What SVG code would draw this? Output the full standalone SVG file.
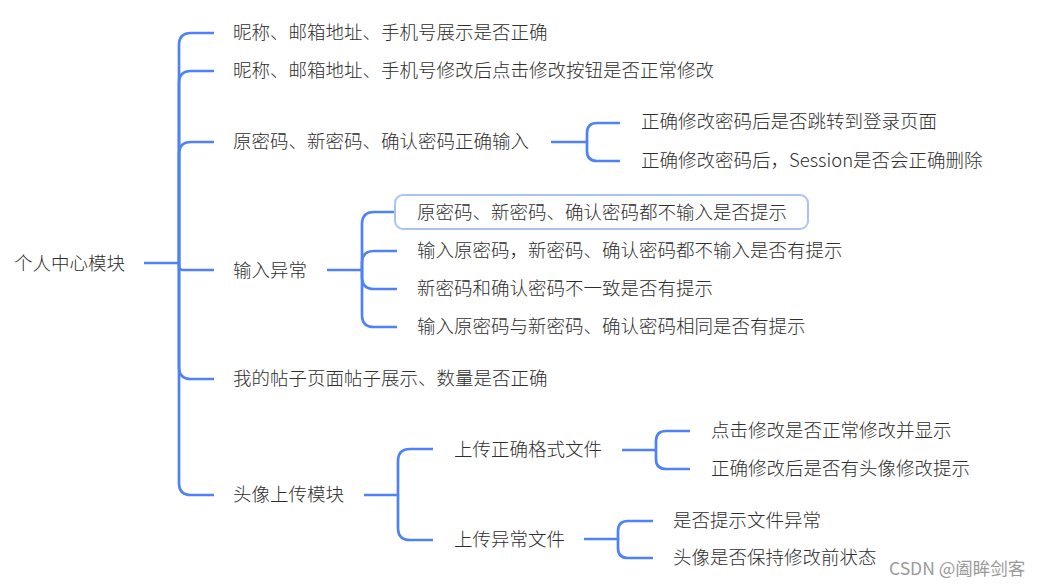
<svg xmlns="http://www.w3.org/2000/svg" width="1041" height="586" viewBox="0 0 1041 586">
<style>
.t{font-family:"Noto Sans CJK SC","Noto Sans",sans-serif;font-size:18.5px;font-weight:300;fill:#2e2e2e;dominant-baseline:central}
.c path{fill:none;stroke:#4F82F7;stroke-width:2.7;stroke-linecap:butt}
.wm{font-family:"Noto Sans CJK SC","Noto Sans",sans-serif;font-size:17.5px;fill:#9a9a9a;dominant-baseline:central}
</style>
<rect width="1041" height="586" fill="#ffffff"/>
<g class="c" id="connectors">
<path d="M144 263H179"/>
<path d="M179 263V45Q179 33 191 33H214"/>
<path d="M179 263V83Q179 71 191 71H214"/>
<path d="M179 263V154Q179 142 191 142H214"/>
<path d="M179 263V266Q179 270 183 270H214"/>
<path d="M179 263V367Q179 379 191 379H214"/>
<path d="M179 263V483Q179 495 191 495H214"/>
<path d="M551 142H587"/>
<path d="M587 142V133Q587 123 597 123H620"/>
<path d="M587 142V151Q587 161 597 161H620"/>
<path d="M327 270H362"/>
<path d="M362 270V224Q362 212 374 212H397"/>
<path d="M362 270V263Q362 251 374 251H397"/>
<path d="M362 270V277Q362 289 374 289H397"/>
<path d="M362 270V315Q362 327 374 327H397"/>
<path d="M364 495H398"/>
<path d="M398 495V461Q398 449 410 449H433"/>
<path d="M398 495V528Q398 540 410 540H433"/>
<path d="M622 450H656"/>
<path d="M656 450V441Q656 431 666 431H690"/>
<path d="M656 450V459Q656 469 666 469H690"/>
<path d="M584 539H618"/>
<path d="M618 539V531Q618 521 628 521H653"/>
<path d="M618 539V548Q618 558 628 558H653"/>
</g>
<g id="root"><text class="t" x="14" y="262">个人中心模块</text></g>
<g id="n1"><text class="t" x="233" y="31">昵称、邮箱地址、手机号展示是否正确</text></g>
<g id="n2"><text class="t" x="233" y="69">昵称、邮箱地址、手机号修改后点击修改按钮是否正常修改</text></g>
<g id="n3"><text class="t" x="233" y="140">原密码、新密码、确认密码正确输入</text></g>
<g id="n3a"><text class="t" x="641" y="120">正确修改密码后是否跳转到登录页面</text></g>
<g id="n3b"><text class="t" x="641" y="159">正确修改密码后，Session是否会正确删除</text></g>
<g id="n4"><text class="t" x="233" y="269">输入异常</text></g>
<g id="n4a"><rect x="395" y="195" width="413" height="34" rx="8" fill="#ffffff" stroke="#A9C3FA" stroke-width="2"/><text class="t" x="417" y="211">原密码、新密码、确认密码都不输入是否提示</text></g>
<g id="n4b"><text class="t" x="417" y="249">输入原密码，新密码、确认密码都不输入是否有提示</text></g>
<g id="n4c"><text class="t" x="417" y="287">新密码和确认密码不一致是否有提示</text></g>
<g id="n4d"><text class="t" x="417" y="325">输入原密码与新密码、确认密码相同是否有提示</text></g>
<g id="n5"><text class="t" x="233" y="377">我的帖子页面帖子展示、数量是否正确</text></g>
<g id="n6"><text class="t" x="233" y="493">头像上传模块</text></g>
<g id="n6a"><text class="t" x="454" y="448">上传正确格式文件</text></g>
<g id="n6a1"><text class="t" x="711" y="429">点击修改是否正常修改并显示</text></g>
<g id="n6a2"><text class="t" x="711" y="467">正确修改后是否有头像修改提示</text></g>
<g id="n6b"><text class="t" x="454" y="538">上传异常文件</text></g>
<g id="n6b1"><text class="t" x="673" y="519">是否提示文件异常</text></g>
<g id="n6b2"><text class="t" x="673" y="556">头像是否保持修改前状态</text></g>
<text class="wm" x="889" y="567">CSDN @阖眸剑客</text>
</svg>
